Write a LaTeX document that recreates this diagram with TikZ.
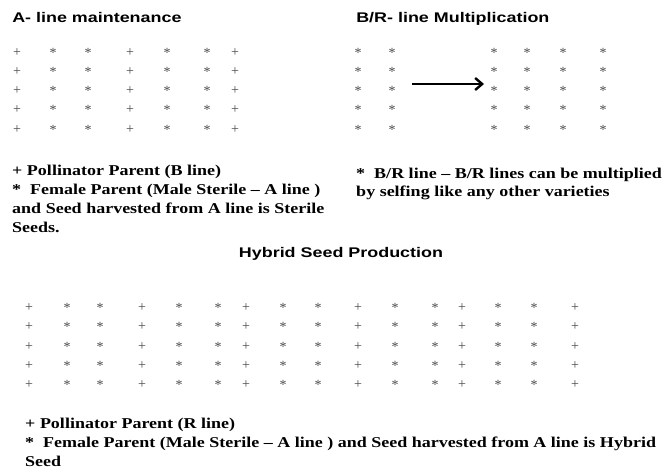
\documentclass[tikz,border=0pt]{standalone}
\usepackage{fontspec}
\setmainfont{Liberation Serif}
\newfontfamily\headfont{Liberation Sans}
\usetikzlibrary{arrows.meta}
\definecolor{plantgray}{HTML}{4A4A4A}

\begin{document}
\begin{tikzpicture}[x=1pt,y=-1pt,
  plant/.style={inner sep=0pt, text=plantgray, font=\fontsize{14}{14}\selectfont},
  heading/.style={inner sep=0pt, xscale=1.28, transform shape, font=\headfont\bfseries\fontsize{14}{16}\selectfont},
  legend/.style={anchor=base west, inner sep=0pt, xscale=1.2, transform shape, font=\bfseries\fontsize{15}{19}\selectfont},
  arrowline/.style={line width=2.4pt, -{Straight Barb[length=7pt,width=12pt]}}]
\useasboundingbox (0,0) rectangle (670,471);

% A- line maintenance
\node[heading, anchor=base west] (atitle) at (12,23) {A- line maintenance};
\foreach \cx/\sym [count=\c] in {17/+,53/*,88/*,130/+,167/*,207/*,235/+}
  \foreach \ry [count=\r] in {53,72,91,110,130}
    \node[plant] (a\c-\r) at (\cx,\ry) {\sym};
\node[legend] (alegA) at (12,175) {+ Pollinator Parent (B line)};
\node[legend] (alegB) at (12,194) {*\ \ Female Parent (Male Sterile -- A line )};
\node[legend] (alegC) at (12,213) {and Seed harvested from A line is Sterile};
\node[legend] (alegD) at (12,232) {Seeds.};

% B/R- line multiplication
\node[heading, anchor=base west] (btitle) at (356,23) {B/R- line Multiplication};
\foreach \cx [count=\c] in {358,392}
  \foreach \ry [count=\r] in {53,72,91,110,130}
    \node[plant] (bl\c-\r) at (\cx,\ry) {*};
\foreach \cx [count=\c] in {494,527,563,603}
  \foreach \ry [count=\r] in {53,72,91,110,130}
    \node[plant] (br\c-\r) at (\cx,\ry) {*};
\coordinate (arrtail) at (412,84);
\coordinate (arrhead) at (484,84);
\draw[arrowline] (arrtail) -- (arrhead);
\node[legend] (blegA) at (356,178) {*\ \ B/R line -- B/R lines can be multiplied};
\node[legend] (blegB) at (356,196) {by selfing like any other varieties};

% Hybrid seed production
\node[heading, anchor=base] (htitle) at (341,257) {Hybrid Seed Production};
\foreach \cx/\sym [count=\c] in {29/+,67/*,100/*,142/+,179/*,218/*,246/+,283/*,318/*,358/+,395/*,435/*,462/+,498/*,534/*,575/+}
  \foreach \ry [count=\r] in {308,327,347,366,385}
    \node[plant] (h\c-\r) at (\cx,\ry) {\sym};
\node[legend] (hlegA) at (25,428) {+ Pollinator Parent (R line)};
\node[legend] (hlegB) at (25,447) {*\ \ Female Parent (Male Sterile -- A line ) and Seed harvested from A line is Hybrid};
\node[legend] (hlegC) at (25,466) {Seed};

\end{tikzpicture}
\end{document}
